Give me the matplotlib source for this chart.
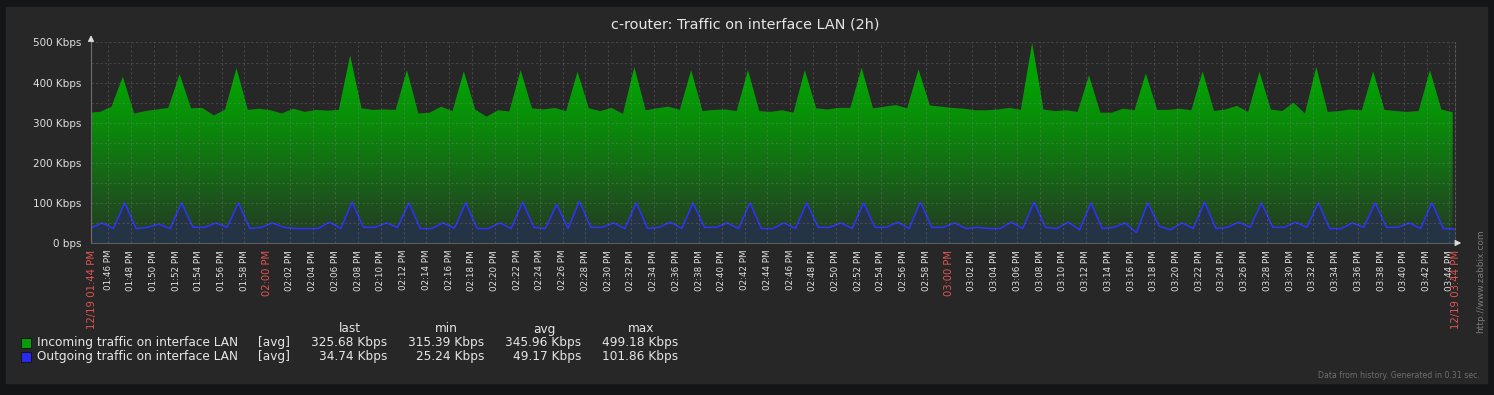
# zabbix style traffic graph, c-router LAN interface (2h)
import numpy as np
import matplotlib
matplotlib.use('Agg')
import matplotlib.pyplot as plt
from matplotlib.colors import LinearSegmentedColormap, Normalize
from matplotlib.patches import Rectangle
from datetime import datetime, timedelta

# sample values, one per minute (Kbps)
incoming = [325,
            327, 340, 415, 323, 329, 333, 337, 421, 336, 337, 318, 333, 436, 332, 335, 331, 323, 335, 327, 332,
            330, 332, 468, 336, 332, 333, 332, 431, 323, 325, 340, 329, 428, 333, 315, 331, 328, 431, 336, 333,
            337, 329, 427, 336, 329, 337, 322, 439, 331, 336, 340, 332, 431, 329, 332, 333, 329, 431, 329, 327,
            331, 325, 431, 336, 333, 337, 337, 437, 336, 340, 344, 336, 433, 343, 340, 337, 335, 331, 331, 333,
            337, 332, 499, 333, 329, 331, 327, 418, 325, 325, 335, 331, 423, 332, 332, 335, 331, 428, 329, 333,
            342, 327, 427, 333, 329, 350, 323, 439, 327, 329, 333, 331, 428, 332, 329, 327, 329, 431, 333, 326]
outgoing = [37,
            50, 36, 100, 36, 39, 47, 36, 100, 39, 39, 50, 39, 100, 36, 39, 50, 39, 36, 36, 36,
            52, 36, 102, 39, 39, 50, 39, 100, 36, 36, 50, 37, 100, 36, 36, 50, 36, 102, 39, 36,
            96, 36, 104, 39, 39, 50, 36, 100, 36, 39, 52, 36, 100, 39, 39, 50, 36, 100, 36, 36,
            50, 36, 100, 39, 39, 50, 36, 100, 39, 39, 52, 36, 102, 39, 39, 50, 36, 39, 36, 36,
            52, 36, 102, 39, 36, 52, 33, 100, 36, 39, 50, 26, 100, 42, 33, 50, 36, 102, 36, 39,
            52, 39, 100, 39, 39, 52, 39, 100, 36, 36, 50, 39, 100, 39, 39, 50, 36, 100, 36, 35]

# legend table
series_names = ['Incoming traffic on interface LAN', 'Outgoing traffic on interface LAN']
stat_names = ['last', 'min', 'avg', 'max']
stats_in = ['325.68 Kbps', '315.39 Kbps', '345.96 Kbps', '499.18 Kbps']
stats_out = ['34.74 Kbps', '25.24 Kbps', '49.17 Kbps', '101.86 Kbps']

yticks = [0, 100, 200, 300, 400, 500]
ylabels = ['0 bps', '100 Kbps', '200 Kbps', '300 Kbps', '400 Kbps', '500 Kbps']

start = datetime(2019, 12, 19, 13, 44, 30)
period = 120  # minutes

# minutes from start of the graph
t_in = np.arange(-1, 120) + 0.8
t_out = t_in + 0.17

W, H = 1494, 395
def fx(x):
    return x / W
def fy(y):
    return 1 - y / H

fig = plt.figure(figsize=(W / 100, H / 100), dpi=100, facecolor='#141517')
fig.patches.append(Rectangle((fx(6), fy(383)), (1487 - 6) / W, (383 - 7) / H,
                             transform=fig.transFigure, color='#272727', zorder=-1))

ax = fig.add_axes([fx(91), fy(243), (1455 - 91) / W, (243 - 42.5) / H])
ax.set_facecolor('#272727')

# green gradient area
cmap = LinearSegmentedColormap.from_list('g', [(0.0, '#233a23'), (0.2, '#1d521d'),
                                               (0.6, '#0a8c0a'), (0.8, '#04a004'), (1.0, '#00a400')])
grad = np.linspace(0, 500, 256).reshape(-1, 1)
im = ax.imshow(grad, extent=[0, period, 0, 500], origin='lower', aspect='auto',
               cmap=cmap, norm=Normalize(0, 500), zorder=1, interpolation='bilinear')
area = ax.fill_between(t_in, incoming, 0, color='none', lw=0)
im.set_clip_path(area.get_paths()[0], transform=ax.transData)

# blue area + line
ax.fill_between(t_out, outgoing, 0, color='#243444', lw=0, zorder=1.5)
ax.plot(t_out, outgoing, color='#3030ff', lw=1.1, zorder=2)

ax.set_xlim(0, period)
ax.set_ylim(0, 500)

# x ticks every 2 minutes
xt = np.arange(1.5, period, 2)
xlab = [(start + timedelta(minutes=float(t))).strftime('%I:%M %p') for t in xt]
ax.set_xticks(xt)
ax.set_xticklabels(xlab, rotation=90, fontsize=6.3, color='#e2e2e2')
for t, lab in zip(xt, ax.get_xticklabels()):
    if (start + timedelta(minutes=float(t))).minute == 0:
        lab.set_color('#e05555')
        lab.set_fontsize(7.2)

ax.set_yticks(yticks)
ax.set_yticklabels(ylabels, fontsize=7.5, color='#dedede')
ax.set_yticks(np.arange(50, 500, 100), minor=True)
ax.tick_params(axis='both', which='both', length=0)
ax.tick_params(axis='x', pad=5)
ax.tick_params(axis='y', pad=7)

ax.set_axisbelow(False)
ax.grid(True, which='both', color='#8a8a8a', alpha=0.3, lw=0.8, linestyle=(0, (2, 2)))

for s in ['top']:
    ax.spines[s].set_visible(False)
ax.spines['right'].set_color('#555555')
ax.spines['right'].set_linestyle((0, (2, 2)))
ax.spines['left'].set_color('#6e6e6e')
ax.spines['bottom'].set_color('#5c5c5c')

# axis arrows
ax.annotate('', xy=(0, 1.05), xycoords='axes fraction', xytext=(0, 1), textcoords='axes fraction',
            arrowprops=dict(arrowstyle='-|>,head_length=0.35,head_width=0.18', color='#dddddd', lw=0.8),
            annotation_clip=False)
ax.annotate('', xy=(1.0066, 0), xycoords='axes fraction', xytext=(1, 0), textcoords='axes fraction',
            arrowprops=dict(arrowstyle='-|>,head_length=0.35,head_width=0.18', color='#dddddd', lw=0.8),
            annotation_clip=False)

# date labels at both ends
for t in [0, period]:
    ax.annotate((start + timedelta(minutes=t)).strftime('%m/%d %I:%M %p'), xy=(t, 0),
                xycoords=('data', 'axes fraction'), xytext=(0.8, -5), textcoords='offset points',
                rotation=90, ha='center', va='top', fontsize=7.3, color='#e05555',
                annotation_clip=False)

fig.text(fx(745), fy(24), 'c-router: Traffic on interface LAN (2h)', ha='center', va='center',
         fontsize=10.4, color='#e6e6e6')

# legend
col_right = [387, 484, 581, 678]
col_mid = [350, 446, 544, 641]
for name, x in zip(stat_names, col_mid):
    fig.text(fx(x), fy(329), name, ha='center', va='center', fontsize=8.7, color='#e6e6e6')
for i, (name, stats, c) in enumerate(zip(series_names, [stats_in, stats_out], ['#0a9a0a', '#2a2aee'])):
    y = 342.5 + i * 14
    fig.patches.append(Rectangle((fx(21), fy(y + 5)), 10 / W, 10 / H, transform=fig.transFigure,
                                 facecolor=c, edgecolor='#111111', lw=0.6))
    fig.text(fx(37), fy(y), name, ha='left', va='center', fontsize=8.7, color='#e6e6e6')
    fig.text(fx(258), fy(y), '[avg]', ha='left', va='center', fontsize=8.7, color='#e6e6e6')
    for v, x in zip(stats, col_right):
        fig.text(fx(x), fy(y), v, ha='right', va='center', fontsize=8.7, color='#e6e6e6')

fig.text(fx(1481), fy(333), 'http://www.zabbix.com', rotation=90, ha='center', va='bottom',
         fontsize=6.5, color='#7a7a7a')
fig.text(fx(1480), fy(375), 'Data from history. Generated in 0.31 sec.', ha='right', va='center',
         fontsize=5.6, color='#6e6e6e')

fig.savefig('out.png', dpi=100, facecolor=fig.get_facecolor())
